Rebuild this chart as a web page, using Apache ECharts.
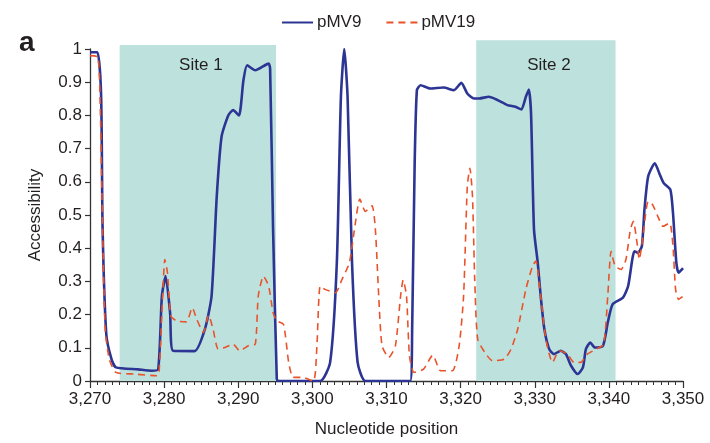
<!DOCTYPE html>
<html>
<head>
<meta charset="utf-8">
<script src="https://cdn.jsdelivr.net/npm/echarts@6/dist/echarts.min.js"></script>
<style>
html,body{margin:0;padding:0;background:#fff;}
#chart{width:710px;height:443px;}
</style>
</head>
<body>
<div id="chart"></div>
<script>
// ---- data ----
var xTicks = [3270, 3280, 3290, 3300, 3310, 3320, 3330, 3340, 3350];
var yTicks = [0, 0.1, 0.2, 0.3, 0.4, 0.5, 0.6, 0.7, 0.8, 0.9, 1];
var seriesNames = ['pMV9', 'pMV19'];
var siteNames = ['Site 1', 'Site 2'];
var siteStart = [3274, 3322.1];
var siteEnd = [3295.1, 3340.9];
var siteTop = [1.012, 1.026];

var pMV9X = [3270, 3271.0, 3271.5, 3271.7, 3272.2, 3272.9, 3273.5, 3276.5, 3278.3, 3279.2, 3279.7, 3280.2, 3280.8, 3281.2, 3284.1, 3285.5, 3286.4, 3287.1, 3287.75, 3288.65, 3289.3, 3290.1, 3290.7, 3291.2, 3292.3, 3294.1, 3294.3, 3294.7, 3295.2, 3295.4, 3301.05, 3302.4, 3303.3, 3303.85, 3304.3, 3304.75, 3305.35, 3306.1, 3307.15, 3313.2, 3313.46, 3313.8, 3314.1, 3314.6, 3315.9, 3317.7, 3319.1, 3320.1, 3320.9, 3321.8, 3322.5, 3323.8, 3325.0, 3326.3, 3327.4, 3328.2, 3328.8, 3329.2, 3329.5, 3329.9, 3330.4, 3330.8, 3331.3, 3331.95, 3332.6, 3333.5, 3334.2, 3334.9, 3335.8, 3336.5, 3336.9, 3337.5, 3338.1, 3339.2, 3339.85, 3340.5, 3341.9, 3342.6, 3343.45, 3343.9, 3344.45, 3344.8, 3345.3, 3346.2, 3346.8, 3347.4, 3348.3, 3348.65, 3349.1, 3349.4, 3350];
var pMV9Y = [0.99, 0.99, 0.86, 0.46, 0.14, 0.066, 0.041, 0.035, 0.031, 0.035, 0.256, 0.316, 0.207, 0.091, 0.09, 0.156, 0.256, 0.556, 0.736, 0.80, 0.816, 0.80, 0.906, 0.951, 0.936, 0.956, 0.94, 0.456, 0.006, 0, 0, 0.057, 0.357, 0.856, 1.0, 0.856, 0.357, 0.057, 0, 0, 0.156, 0.656, 0.876, 0.891, 0.881, 0.884, 0.876, 0.898, 0.866, 0.851, 0.851, 0.856, 0.846, 0.831, 0.826, 0.818, 0.856, 0.878, 0.806, 0.456, 0.357, 0.256, 0.156, 0.096, 0.081, 0.091, 0.081, 0.046, 0.021, 0.041, 0.096, 0.116, 0.101, 0.106, 0.176, 0.231, 0.251, 0.286, 0.391, 0.386, 0.406, 0.516, 0.616, 0.656, 0.626, 0.596, 0.576, 0.506, 0.357, 0.326, 0.34];

var pMV19X = [3270, 3271.06, 3271.4, 3271.7, 3272.05, 3272.6, 3273.5, 3276.0, 3278.95, 3279.3, 3279.7, 3280.1, 3280.45, 3280.9, 3281.7, 3283.0, 3283.8, 3284.4, 3285.3, 3286.0, 3286.6, 3287.3, 3288.2, 3289.3, 3290.2, 3291.35, 3292.3, 3292.7, 3293.4, 3294.1, 3294.7, 3295.2, 3296.1, 3296.8, 3297.4, 3298.6, 3300.15, 3300.6, 3301.05, 3301.7, 3303.1, 3304.0, 3305.0, 3305.8, 3306.4, 3307.15, 3308.05, 3308.5, 3308.95, 3309.4, 3310.3, 3311.2, 3311.9, 3312.25, 3312.7, 3313.1, 3313.7, 3315.0, 3316.25, 3317.3, 3318.9, 3319.8, 3320.4, 3320.9, 3321.25, 3321.6, 3321.9, 3322.3, 3323.3, 3324.3, 3325.9, 3326.8, 3327.7, 3328.8, 3329.7, 3330.15, 3330.8, 3331.5, 3332.4, 3333.3, 3334.4, 3335.3, 3336.2, 3337.1, 3338.3, 3339.3, 3339.85, 3340.3, 3340.85, 3341.65, 3342.3, 3342.9, 3343.3, 3343.8, 3344.1, 3344.6, 3345.3, 3345.9, 3346.6, 3347.3, 3348.2, 3348.65, 3349.0, 3349.4, 3350];
var pMV19Y = [0.98, 0.976, 0.806, 0.456, 0.156, 0.066, 0.026, 0.021, 0.016, 0.021, 0.206, 0.366, 0.326, 0.196, 0.181, 0.178, 0.221, 0.186, 0.146, 0.198, 0.156, 0.096, 0.101, 0.111, 0.091, 0.106, 0.111, 0.256, 0.316, 0.286, 0.206, 0.181, 0.171, 0.057, 0.011, 0.011, 0.0, 0.1, 0.286, 0.276, 0.266, 0.306, 0.357, 0.476, 0.548, 0.511, 0.528, 0.456, 0.256, 0.106, 0.071, 0.106, 0.256, 0.304, 0.256, 0.076, 0.026, 0.036, 0.078, 0.031, 0.031, 0.106, 0.256, 0.586, 0.641, 0.556, 0.306, 0.126, 0.085, 0.061, 0.066, 0.096, 0.156, 0.276, 0.346, 0.361, 0.256, 0.126, 0.056, 0.091, 0.081, 0.056, 0.056, 0.081, 0.096, 0.111, 0.256, 0.391, 0.346, 0.336, 0.366, 0.456, 0.481, 0.416, 0.366, 0.436, 0.541, 0.531, 0.496, 0.466, 0.476, 0.406, 0.276, 0.246, 0.255];

// ---- build ----
function zip(xs, ys) { return xs.map(function (x, i) { return [x, ys[i]]; }); }
var siteData = siteNames.map(function (n, i) { return [siteStart[i], siteEnd[i], siteTop[i], n]; });

var FONT = '"Liberation Sans", Arial, Helvetica, sans-serif';
var TXT = '#231f20';
var BLUE = '#2c3593';
var RED = '#e9532b';
var SHADE = '#bde2de';

var chart = echarts.init(document.getElementById('chart'), null, {renderer: 'canvas'});
chart.setOption({
  animation: false,
  backgroundColor: '#ffffff',
  textStyle: {fontFamily: FONT},
  grid: {left: 90, right: 27, top: 49, bottom: 60, containLabel: false},
  legend: {
    data: seriesNames,
    left: 276, top: 9,
    itemWidth: 31, itemHeight: 16, itemGap: 24,
    itemStyle: {opacity: 0, color: 'rgba(0,0,0,0)', borderWidth: 0},
    textStyle: {fontSize: 17, color: TXT, fontFamily: FONT, padding: [0, 0, 0, -1]}
  },
  graphic: [{
    type: 'text', left: 19, top: 29,
    style: {text: 'a', font: 'bold 28px ' + FONT, fill: TXT}
  }],
  xAxis: {
    type: 'value', min: 3270, max: 3350, interval: 10,
    name: 'Nucleotide position', nameLocation: 'middle', nameGap: 40,
    nameTextStyle: {fontSize: 17, color: TXT, fontFamily: FONT},
    axisLine: {show: true, onZero: false, lineStyle: {color: '#333', width: 1.3}},
    axisTick: {show: true, length: 7, lineStyle: {color: '#333', width: 1.2}},
    minorTick: {show: true, splitNumber: 10, length: 4, lineStyle: {color: '#333', width: 1}},
    splitLine: {show: false},
    axisLabel: {fontSize: 17, color: TXT, margin: 10, fontFamily: FONT,
      formatter: function (v) { return String(v).replace(/(\d)(\d{3})$/, '$1,$2'); }}
  },
  yAxis: {
    type: 'value', min: 0, max: 1, interval: 0.1,
    name: 'Accessibility', nameLocation: 'middle', nameGap: 46,
    nameTextStyle: {fontSize: 17, color: TXT, fontFamily: FONT},
    axisLine: {show: true, lineStyle: {color: '#333', width: 1.3}},
    axisTick: {show: true, length: 5, lineStyle: {color: '#333', width: 1.2}},
    splitLine: {show: false},
    axisLabel: {fontSize: 17, color: TXT, margin: 8, fontFamily: FONT,
      formatter: function (v) { return String(Math.round(v * 10) / 10); }}
  },
  series: [
    {
      type: 'custom', name: 'sites', z: 1, silent: true, clip: false,
      data: siteData,
      renderItem: function (params, api) {
        var p0 = api.coord([api.value(0), api.value(2)]);
        var p1 = api.coord([api.value(1), 0]);
        var pc = api.coord([(api.value(0) + api.value(1)) / 2, 0.952]);
        return {
          type: 'group',
          children: [
            {type: 'rect', shape: {x: p0[0], y: p0[1], width: p1[0] - p0[0], height: p1[1] - p0[1]},
             style: {fill: SHADE}},
            {type: 'text', x: pc[0] + 3, y: pc[1],
             style: {text: siteNames[params.dataIndex], font: '17px ' + FONT, fill: TXT,
                     align: 'center', verticalAlign: 'middle'}}
          ]
        };
      }
    },
    {
      type: 'line', name: 'pMV9', z: 3, symbol: 'none', smooth: 0.2,
      data: zip(pMV9X, pMV9Y),
      lineStyle: {color: BLUE, width: 2.6},
      itemStyle: {color: BLUE}
    },
    {
      type: 'line', name: 'pMV19', z: 4, symbol: 'none', smooth: 0.2,
      data: zip(pMV19X, pMV19Y),
      lineStyle: {color: RED, width: 1.6, type: [7, 5]},
      itemStyle: {color: RED}
    }
  ]
});
</script>
</body>
</html>
